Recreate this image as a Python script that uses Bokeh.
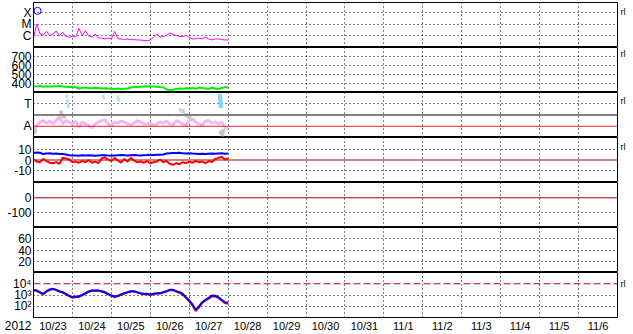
import numpy as np
import pandas as pd
from bokeh.plotting import figure
from bokeh.layouts import column
from bokeh.models import (Range1d, FixedTicker, CustomJSTickFormatter, Span,
                          Grid, LinearAxis, LogAxis)
from bokeh.embed import file_html
from bokeh.resources import INLINE

# ---------------- data ----------------
start = pd.Timestamp("2012-10-23")
end = pd.Timestamp("2012-11-07")
hours = list(range(0, 121, 2))  # 2-hour cadence, 10/23 00:00 .. 10/28 00:00

year_label = "2012"
date_labels = ["10/23", "10/24", "10/25", "10/26", "10/27", "10/28", "10/29", "10/30",
               "10/31", "11/1", "11/2", "11/3", "11/4", "11/5", "11/6"]

xray_flux = [6.7e-7, 1.1e-5, 1.5e-6, 1.2e-6, 2.5e-6, 1.1e-6, 1.5e-6, 2.7e-6, 1.1e-6, 2.1e-6,
             9e-7, 8e-7, 9e-7, 8e-7, 4.5e-6, 1.1e-6, 2.9e-6, 1e-6, 8e-7, 1.5e-6,
             7e-7, 6.5e-7, 5.5e-7, 6.5e-7, 5.5e-7, 2.5e-6, 6e-7, 5.5e-7, 5e-7, 5.5e-7,
             4.8e-7, 4.8e-7, 4.5e-7, 4.5e-7, 3.9e-7, 3.9e-7, 4.5e-7, 7.5e-7, 1.5e-6, 8e-7,
             9e-7, 1.1e-6, 1.8e-6, 1.3e-6, 1.1e-6, 9e-7, 9e-7, 1.1e-6, 7.5e-7, 5.5e-7,
             5.5e-7, 6.5e-7, 5.5e-7, 8e-7, 5.5e-7, 4.5e-7, 5.5e-7, 5.5e-7, 4.8e-7, 4.5e-7,
             4.5e-7]
flare_hour = [2.5]
flare_flux = [1.5e-4]

speed = [370, 368, 372, 365, 370, 368, 366, 370, 372, 368, 365,
         362, 360, 358, 345, 352, 355, 350, 348, 352, 350, 345, 348,
         345, 342, 340, 345, 338, 342, 345, 355, 360, 362,
         365, 368, 370, 366, 368, 365, 360, 358,
         335, 325, 330, 340, 345, 342,
         348, 345, 350, 340, 355, 350, 345,
         340, 352, 345, 338, 350, 360, 355]

phi = [61, 96, 123, 136, 115, 131, 109, 136, 163, 109, 136, 123, 109, 131, 83, 123,
       109, 96, 77, 109, 123, 136, 141, 109, 96, 123, 115, 131, 123, 109, 101, 115,
       136, 123, 109, 109, 115, 96, 109, 123, 115, 131, 109, 101, 136, 123, 109, 96,
       136, 149, 123, 109, 96, 131, 136, 115, 123, 109, 123, 83, 69]
phi_blue_hours = [20.5, 20.8, 21.0, 21.3, 21.5, 43.0, 43.2, 52.0, 52.3, 52.6, 90.5, 90.8]
phi_blue = [330, 300, 285, 265, 245, 330, 315, 325, 310, 295, 225, 210]
phi_cyan_hours = [115.0, 115.1, 115.2, 115.3, 115.4, 115.5]
phi_cyan = [335, 315, 300, 285, 265, 250]
phi_gray_hours = [0.5, 1.0, 17.0, 18.0, 19.0, 92.0, 94.0, 96.0, 115.5, 116.5, 117.0]
phi_gray = [40, 55, 200, 175, 165, 210, 180, 165, 40, 25, 55]

bt = [6.5, 7.0, 6.8, 5.5, 6.0, 6.2,
      5.8, 6.0, 5.6, 5.5, 5.2,
      4.5, 4.3, 4.2, 4.0, 4.5, 4.3, 4.4, 4.2, 4.0, 4.3,
      4.4, 4.5, 4.2, 4.0, 4.3, 4.5, 4.6, 4.4, 4.2, 4.5,
      4.6, 4.4, 4.3, 4.5, 4.6, 4.8, 4.7, 4.9, 5.0, 5.2,
      6.0, 6.4, 6.6, 6.5, 6.8, 6.2, 6.0, 6.3, 6.0, 5.8,
      5.6, 5.8, 5.5, 5.9, 6.0, 5.8, 6.1, 6.2, 5.8, 6.0]
bz = [0.5, -1.5, -2.0, 1.0, -1.0, -2.5,
      -3.0, -2.0, -3.5, 2.0, 1.5,
      0.5, -2.0, -1.5, -2.5, -1.0, -2.0, 0.0, -2.5, -1.5, -3.0,
      1.5, 2.5, 0.5, -1.0, 2.0, -0.5, -2.5, 1.0, -1.5, 2.0,
      -0.5, -2.0, -1.5, -2.5, -1.0, -3.0, -2.0, -1.5, 0.5, -2.0,
      -1.0, -3.5, -4.5, -3.0, -4.0, -2.0, -3.0, -1.5, -2.5, -1.0,
      -2.0, -1.5, -3.0, -1.0, -2.0, 1.0, 2.0, 3.0, 0.5, 1.5]

flux_blue = [2900, 2500, 1790, 1270, 2190, 3100, 3530, 2900, 2190, 1790,
             1270, 900, 640, 740, 740, 1030, 1450, 2050, 2500, 2500,
             2500, 2190, 1790, 1270, 900, 740, 850, 1120, 1450, 1790,
             2190, 2190, 1790, 1450, 1270, 1270, 1120, 1270, 1450, 1450,
             1790, 2190, 2900, 2900, 2190, 1790, 1270, 640, 325, 145,
             48, 95, 230, 375, 560, 900, 850, 640, 375, 230, 215]
flux_red = [2700, 2300, 1600, 1100, 2000, 2900, 3300, 2700, 2000, 1650,
            1150, 800, 560, 650, 680, 950, 1350, 1900, 2350, 2400,
            2350, 2050, 1650, 1150, 820, 660, 760, 1020, 1350, 1650,
            2050, 2050, 1650, 1350, 1150, 1150, 1020, 1150, 1350, 1350,
            1650, 2050, 2700, 2700, 2000, 1600, 1100, 560, 270, 115,
            38, 80, 200, 330, 480, 780, 740, 560, 320, 190, 170]

# panel tick values / labels
xray_ticks, xray_labels = [1e-4, 1e-5, 1e-6], ["X", "M", "C"]
speed_ticks = [700, 600, 500, 400]
phi_ticks, phi_labels = [270, 90], ["T", "A"]
b_ticks = [10, 0, -10]
dst_ticks = [0, -100]
p6_ticks = [60, 40, 20]
pflux_ticks, pflux_labels = [1e2, 1e3, 1e4], ["10²", "10³", "10⁴"]
rl_marks = [1.2e-4, 730, 296, 12, 1e4]   # right-edge "rl" markers (panels 1,2,3,4,7)


# ---------------- helpers ----------------
def times(hrs):
    return (start + pd.to_timedelta(hrs, unit="h")).to_numpy()


def ms(ts):
    return ts.value / 1e6


midnights = [ms(start + pd.Timedelta(days=d)) for d in range(1, 15)]
noons = [ms(start + pd.Timedelta(days=d, hours=12)) for d in range(15)]

xr = Range1d(start=start.to_pydatetime(), end=end.to_pydatetime())

FMT_CODE = """
for (let i = 0; i < tv.length; i++) {
  if (Math.abs(tv[i] - tick) <= 1e-9 * Math.abs(tv[i])) return tl[i];
}
return '';
"""

FONT = "Liberation Sans"
DOT = "1 3"


def clean_axis(ax, size="12px", standoff=2):
    ax.major_tick_line_color = None
    ax.minor_tick_line_color = None
    ax.major_tick_out = 0
    ax.major_tick_in = 0
    ax.minor_tick_out = 0
    ax.minor_tick_in = 0
    ax.major_label_text_font = FONT
    ax.major_label_text_font_size = size
    ax.major_label_text_color = "black"
    ax.major_label_standoff = standoff


def panel(y_range, ticks, labels, grid_ticks, y_type="linear", top=0, bottom=0, rl=None):
    p = figure(frame_width=584, frame_height=45, x_range=xr, y_range=y_range,
               y_axis_type=y_type, x_axis_type="datetime",
               x_axis_location=("below" if bottom else None),
               toolbar_location=None, output_backend="svg",
               min_border_left=33, min_border_right=16,
               min_border_top=top, min_border_bottom=bottom)
    p.outline_line_color = "black"
    p.outline_line_width = 1
    p.outline_line_alpha = 1
    p.background_fill_color = "white"
    p.border_fill_color = "white"
    p.grid.visible = False
    p.add_layout(Grid(dimension=0, ticker=FixedTicker(ticks=midnights),
                      grid_line_color="black", grid_line_dash=DOT, grid_line_width=1))
    if grid_ticks:
        p.add_layout(Grid(dimension=1, ticker=FixedTicker(ticks=grid_ticks),
                          grid_line_color="black", grid_line_dash=DOT, grid_line_width=1))
    ya = p.yaxis[0]
    ya.ticker = FixedTicker(ticks=ticks)
    ya.formatter = CustomJSTickFormatter(args=dict(tv=ticks, tl=labels), code=FMT_CODE)
    ya.axis_line_color = "black"
    clean_axis(ya)
    if rl is not None:
        cls = LogAxis if y_type == "log" else LinearAxis
        ra = cls(ticker=FixedTicker(ticks=[rl]),
                 formatter=CustomJSTickFormatter(code="return 'rl';"),
                 axis_line_color=None)
        clean_axis(ra, size="9px", standoff=3)
        p.add_layout(ra, "right")
    return p


# Panel 1: X-ray flux
p1 = panel(Range1d(1e-7, 10 ** -3.1), xray_ticks, xray_labels, xray_ticks, y_type="log",
           top=2, rl=rl_marks[0])
p1.line(times(hours), xray_flux, line_color="#ff00ff", line_width=1)
p1.scatter(times(flare_hour), flare_flux, marker="circle", size=7, fill_color=None,
           line_color="#0000ff", line_width=1)

# Panel 2: speed
p2 = panel(Range1d(300, 800), speed_ticks, [str(v) for v in speed_ticks], speed_ticks,
           rl=rl_marks[1])
p2.line(times(hours), speed, line_color="#00ee00", line_width=2)

# Panel 3: T / A
p3 = panel(Range1d(0, 360), phi_ticks, phi_labels, [270], rl=rl_marks[2])
p3.add_layout(Span(location=180, dimension="width", line_color="#808080", line_width=2))
p3.line(times(hours), phi, line_color="#f6b4f2", line_width=3)
p3.scatter(times(phi_gray_hours), phi_gray, marker="square", size=3, fill_color="#c8c8c8",
           line_color="#c8c8c8")
p3.scatter(times(phi_blue_hours), phi_blue, marker="square", size=2, fill_color="#b4e6f8",
           line_color="#b4e6f8")
p3.scatter(times(phi_cyan_hours), phi_cyan, marker="square", size=3, fill_color="#80d8f4",
           line_color="#80d8f4")
p3.add_layout(Span(location=90, dimension="width", line_color="#e02020", line_width=1))

# Panel 4: Bt / Bz
p4 = panel(Range1d(-21, 21), b_ticks, [str(v) for v in b_ticks], [10, -10], rl=rl_marks[3])
p4.add_layout(Span(location=0, dimension="width", line_color="#a00000", line_width=1,
                   level="underlay"))
p4.line(times(hours), bz, line_color="#ff0000", line_width=2)
p4.line(times(hours), bt, line_color="#0000ff", line_width=2)

# Panel 5
p5 = panel(Range1d(-198, 102), dst_ticks, [str(v) for v in dst_ticks], [-100])
p5.add_layout(Span(location=0, dimension="width", line_color="#a00000", line_width=1))

# Panel 6
p6 = panel(Range1d(0, 80), p6_ticks, [str(v) for v in p6_ticks], p6_ticks)

# Panel 7: particle flux (log); the year sits on a second line below the bottom tick
p7 = panel(Range1d(10, 1e5), [10] + pflux_ticks,
           ["\n" + year_label] + pflux_labels, [1e2, 1e3], y_type="log",
           bottom=17, rl=rl_marks[4])
p7.add_layout(Span(location=1e4, dimension="width", line_color="#b00000", line_width=1,
                   line_dash="7 3"))
p7.line(times(hours), flux_red, line_color="#ff0000", line_width=2)
p7.line(times(hours), flux_blue, line_color="#0000ff", line_width=2)

xa = p7.xaxis[0]
xa.ticker = FixedTicker(ticks=noons)
xa.formatter = CustomJSTickFormatter(args=dict(tv=noons, tl=date_labels), code=FMT_CODE)
xa.axis_line_color = None
clean_axis(xa, size="11px", standoff=2)

layout = column(p1, p2, p3, p4, p5, p6, p7, spacing=0)
open("out.html", "w").write(file_html(layout, INLINE))
